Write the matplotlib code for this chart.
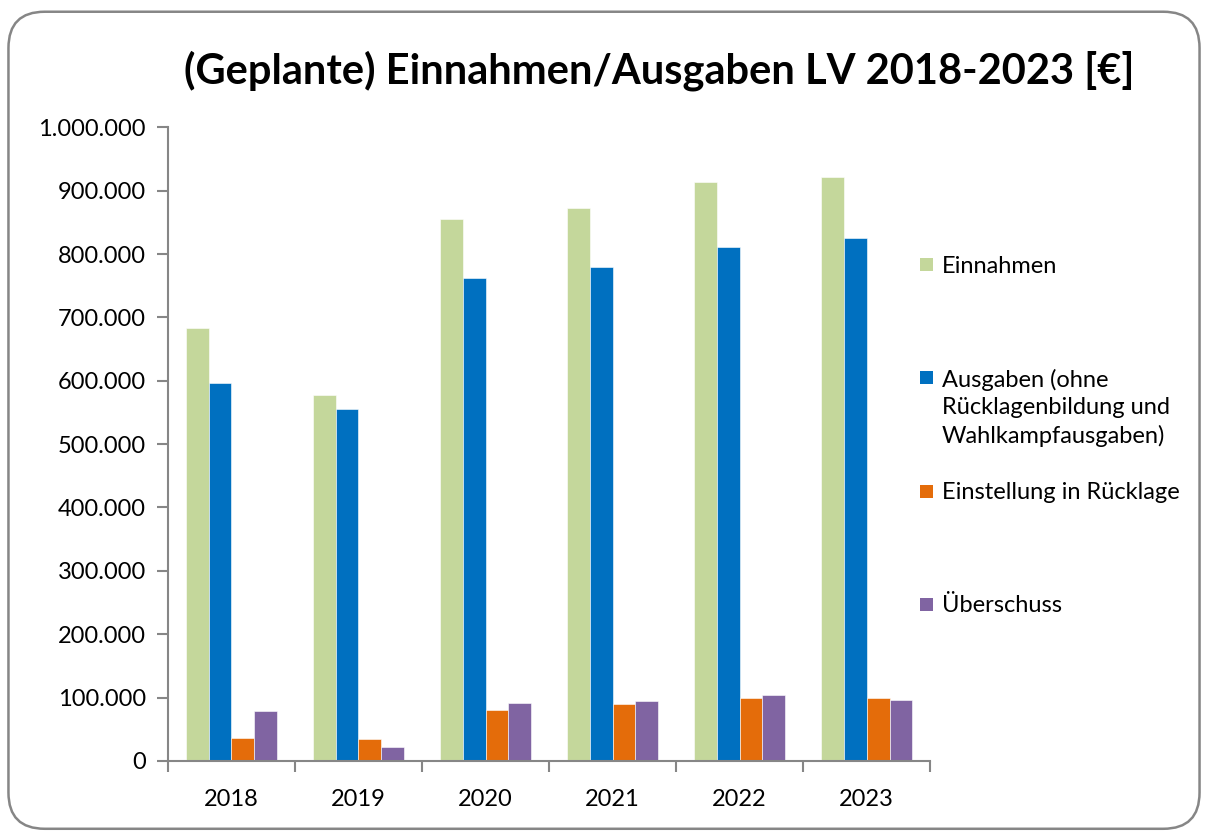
import numpy as np
import matplotlib.pyplot as plt
from matplotlib.patches import FancyBboxPatch, Rectangle
from matplotlib.ticker import FuncFormatter, FixedLocator

plt.rcParams['font.family'] = ['Lato', 'DejaVu Sans']

years = ['2018', '2019', '2020', '2021', '2022', '2023']
einnahmen = [684000, 577000, 855000, 872000, 913000, 921000]
ausgaben = [596000, 555000, 762000, 779000, 811000, 826000]
ruecklage = [36000, 35000, 80000, 90000, 100000, 100000]
ueberschuss = [79000, 22000, 91000, 94000, 104000, 96000]

labels = ['Einnahmen',
          'Ausgaben (ohne\nRücklagenbildung und\nWahlkampfausgaben)',
          'Einstellung in Rücklage',
          'Überschuss']
colors = ['#c4d79b', '#0070c0', '#e46c0a', '#8064a2']

W, H = 1208, 838
fig = plt.figure(figsize=(W / 100, H / 100), dpi=100)
ax = fig.add_axes([0.139, 0.092, 0.631, 0.756])

x = np.arange(len(years))
w = 0.18
series = [einnahmen, ausgaben, ruecklage, ueberschuss]
for i, (vals, c, lab) in enumerate(zip(series, colors, labels)):
    ax.bar(x + (i - 1.5) * w, vals, w, color=c, label=lab,
           edgecolor='white', linewidth=0.4)

ax.set_xlim(-0.5, len(years) - 0.5)
ax.set_ylim(0, 1000000)
ax.set_yticks(np.arange(0, 1000001, 100000))
ax.yaxis.set_major_formatter(FuncFormatter(lambda v, p: f'{int(v):,}'.replace(',', '.')))
ax.set_xticks(x)
ax.set_xticklabels(years)
ax.xaxis.set_minor_locator(FixedLocator(np.arange(-0.5, len(years), 1)))
ax.tick_params(axis='x', which='major', length=0, labelsize=17, pad=20)
ax.tick_params(axis='x', which='minor', length=8, color='#868686', width=1.5)
ax.tick_params(axis='y', length=8, color='#868686', width=1.5, labelsize=17, pad=8)
for s in ['top', 'right']:
    ax.spines[s].set_visible(False)
for s in ['left', 'bottom']:
    ax.spines[s].set_color('#868686')
    ax.spines[s].set_linewidth(1.5)

fig.text(0.546, 0.916, '(Geplante) Einnahmen/Ausgaben LV 2018-2023 [€]',
         ha='center', va='center', fontsize=30, fontweight='bold')

# legend, drawn by hand so that handles are evenly spaced like in the original
for i, (c, lab) in enumerate(zip(colors, labels)):
    yc = 265 + 113 * i
    fig.patches.append(Rectangle((920 / W, 1 - (yc + 6.5) / H), 13 / W, 13 / H,
                                 transform=fig.transFigure, facecolor=c, edgecolor='none'))
    fig.text(942 / W, 1 - (yc - 9) / H, lab, ha='left', va='top',
             fontsize=17, linespacing=1.36)

frame = FancyBboxPatch((0.007, 0.011), 0.986, 0.975, boxstyle='round,pad=0,rounding_size=0.03',
                       transform=fig.transFigure, facecolor='none', edgecolor='#868686',
                       linewidth=1.8, mutation_aspect=1.44)
fig.patches.append(frame)

fig.savefig('out.png', dpi=100)
